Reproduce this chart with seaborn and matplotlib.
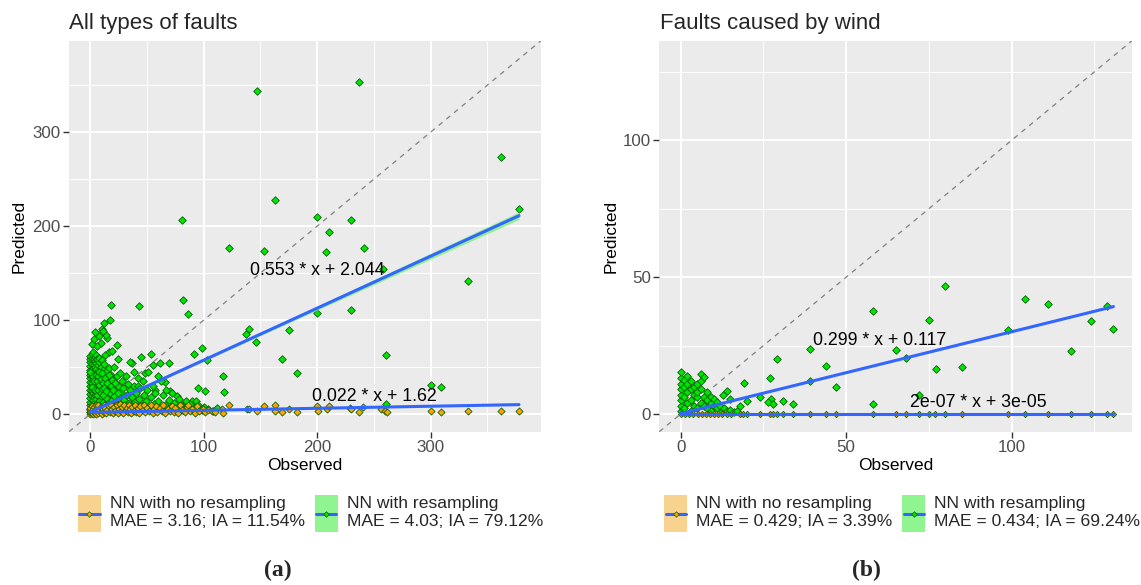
import numpy as np
import pandas as pd
import matplotlib
matplotlib.use("Agg")
import matplotlib.pyplot as plt
import seaborn as sns
from matplotlib.patches import Patch, Rectangle
from matplotlib.lines import Line2D
from matplotlib.legend_handler import HandlerBase
from matplotlib.ticker import MultipleLocator

# ---------------- data ----------------
# Panel (a): all types of faults
a_green = [
    (147, 344), (237, 353), (362, 274), (378, 218), (163, 228), (81, 206), (200, 210),
    (230, 206), (210, 194), (122, 177), (153, 173), (208, 172), (241, 177), (333, 142),
    (258, 154), (18, 116), (43, 115), (82, 121), (86, 106), (200, 107), (230, 111),
    (137, 85), (140, 90), (146, 77), (175, 89), (169, 58), (182, 44), (261, 63),
    (98, 70), (91, 64), (103, 57), (117, 40), (118, 23), (95, 28), (101, 24),
    (300, 31), (309, 29), (261, 11), (1, 74), (4, 87), (12, 97), (17, 100), (23, 73),
    (16, 66), (8, 83), (15, 81), (10, 90), (53, 64), (45, 61), (69, 54), (61, 54),
    (37, 54), (35, 55), (55, 52), (66, 34), (70, 24), (76, 19), (84, 12), (90, 14),
    (57, 26), (48, 44), (60, 40), (42, 38),
    (9, 76), (6, 72), (14, 84), (11, 88), (3, 80), (19, 67), (24, 58), (13, 63),
    (0, 2), (0, 5), (0, 9), (0, 13), (0, 17), (0, 21), (0, 26), (0, 30), (0, 34),
    (0, 38), (0, 42), (0, 47), (0, 51), (0, 55), (0, 58), (0, 62),
    (1, 4), (1, 11), (1, 19), (1, 24), (1, 33), (1, 40), (1, 45), (1, 53), (1, 60), (1, 64),
    (2, 1), (2, 7), (2, 15), (2, 22), (2, 28), (2, 36), (2, 44), (2, 49), (2, 57), (2, 66),
    (3, 3), (3, 10), (3, 18), (3, 25), (3, 31), (3, 39), (3, 46), (3, 52), (3, 59),
    (4, 6), (4, 13), (4, 20), (4, 29), (4, 35), (4, 43), (4, 50), (4, 56), (4, 61),
    (5, 2), (5, 9), (5, 16), (5, 23), (5, 32), (5, 37), (5, 48), (5, 54), (5, 63),
    (6, 5), (6, 12), (6, 27), (6, 41), (6, 58), (7, 8), (7, 19), (7, 33), (7, 46), (7, 52),
    (8, 3), (8, 14), (8, 24), (8, 38), (8, 55), (8, 60), (9, 10), (9, 29), (9, 43), (9, 50),
    (10, 6), (10, 18), (10, 35), (10, 57), (11, 13), (11, 26), (11, 47),
    (12, 4), (12, 21), (12, 40), (12, 53),
    (13, 9), (13, 31), (14, 17), (14, 45), (15, 6), (15, 26), (15, 38), (16, 12), (16, 49),
    (17, 22), (17, 33), (18, 4), (18, 42), (19, 15), (19, 28), (20, 8), (20, 36), (21, 19),
    (21, 50), (22, 25), (23, 11), (23, 40), (24, 30), (25, 5), (25, 17), (26, 44), (27, 23),
    (28, 10), (28, 35), (29, 28), (30, 15), (31, 6), (31, 40), (32, 20), (33, 32), (34, 12),
    (35, 25), (36, 8), (37, 18), (38, 45), (38, 30), (39, 13), (40, 22), (41, 5), (42, 30),
    (43, 16), (44, 28), (45, 10), (46, 35), (47, 20), (48, 8), (49, 14), (50, 26), (51, 45),
    (52, 6), (53, 18), (55, 30), (56, 11), (57, 22), (58, 8), (60, 14), (62, 35), (63, 6),
    (64, 20), (66, 10), (67, 26), (69, 15), (71, 7), (72, 22), (74, 12), (77, 5), (78, 16),
    (80, 10), (82, 4), (84, 14), (86, 8), (88, 11), (91, 6), (93, 14), (95, 9), (98, 4),
    (100, 7), (104, 5), (108, 3), (112, 6),
    (0, 45), (1, 29), (2, 40), (3, 35), (4, 25), (5, 42), (6, 20), (6, 35), (7, 26), (7, 40),
    (8, 31), (8, 45), (9, 22), (9, 37), (10, 27), (10, 44), (11, 20), (11, 33), (12, 28),
    (13, 38), (14, 24), (15, 33), (16, 42), (18, 30), (19, 36), (20, 25), (22, 33), (24, 22),
]
a_orange = [
    (122, 9), (138, 5), (140, 5), (147, 3), (153, 8), (163, 9), (163, 3), (169, 2), (175, 5),
    (182, 2), (200, 8), (201, 3), (209, 5), (210, 8), (229, 6), (230, 5), (237, 2), (240, 7),
    (256, 5), (260, 3), (262, 2), (300, 3), (309, 2), (333, 3), (362, 3), (378, 3),
    (0, 0), (0, 2), (0, 4), (0, 6), (1, 1), (1, 3), (1, 8), (2, 0), (2, 5), (3, 2), (3, 7),
    (4, 1), (4, 4), (5, 9), (5, 0), (6, 3), (6, 6), (7, 1), (7, 10), (8, 4), (9, 2), (9, 7),
    (10, 0), (11, 5), (12, 2), (12, 9), (13, 6), (14, 1), (15, 4), (16, 8), (17, 2), (18, 10),
    (19, 5), (20, 1), (21, 7), (22, 3), (23, 9), (24, 1), (25, 5), (26, 11), (27, 3), (28, 7),
    (29, 1), (30, 9), (31, 4), (32, 6), (33, 2), (34, 10), (35, 5), (36, 1), (37, 7), (38, 3),
    (39, 9), (40, 2), (42, 6), (43, 1), (44, 8), (46, 4), (47, 10), (48, 2), (50, 6), (52, 3),
    (53, 9), (55, 1), (56, 5), (58, 8), (59, 2), (61, 6), (63, 3), (64, 10), (66, 1), (68, 5),
    (70, 3), (72, 8), (74, 2), (75, 6), (77, 1), (79, 9), (81, 4), (83, 2), (85, 7), (86, 10),
    (88, 3), (90, 5), (92, 1), (94, 8), (96, 3), (99, 5), (101, 2), (104, 4), (107, 3),
    (110, 2), (116, 5), (117, 1),
]
a_fit_green = (0.553, 2.044)
a_fit_orange = (0.022, 1.62)
a_fit_xmax = 378
a_band_x = [0, 50, 100, 200, 300, 378]
a_band_hw = [0.3, 0.6, 1.1, 2.2, 3.2, 4.0]
a_labels = ["0.553 * x + 2.044", "0.022 * x + 1.62"]
a_label_pos = [(200, 153), (250, 18.5)]
a_legend = ["NN with no resampling\nMAE = 3.16; IA = 11.54%",
            "NN with resampling\nMAE = 4.03; IA = 79.12%"]

# Panel (b): faults caused by wind
b_green = [
    (80, 46.8), (58, 37.6), (75, 34.4), (104, 41.9), (111, 40.1), (99, 30.7), (124, 34),
    (128.7, 39.5), (130.8, 31.1), (118, 23.1), (65, 23.4), (39, 23.7), (29, 20), (68, 20.4),
    (44, 17.5), (77, 16.5), (85, 17.1), (27, 13.1), (39, 12.1), (19, 11.3), (47, 9.8),
    (72, 6.8), (58, 3.6), (24, 6.1), (27.3, 5.6), (30.9, 4.6), (33.9, 3.7), (26.3, 4.4),
    (27.8, 3.7), (20, 4.6), (17.9, 2.8), (13.9, 8.5), (12.9, 6.8), (14.9, 5.6), (11.9, 1.5),
    (0, 1), (0, 3), (0, 5), (0, 7), (0, 9), (0, 11), (0, 13), (0, 15.5), (1, 2), (1, 6),
    (1, 10), (1, 12.5), (2, 4), (2, 8), (2, 11), (2, 14), (3, 1), (3, 5), (3, 9), (3, 12),
    (4, 3), (4, 7), (4, 10), (5, 2), (5, 6), (5, 8), (5, 11), (6, 4), (6, 9), (6, 12),
    (6, 14.5), (7, 3), (7, 6), (7, 13.6), (8, 2), (8, 5), (8, 8), (9, 1), (9, 4), (9, 6),
    (10, 3), (10, 5.5), (11, 2), (11, 4.5), (12, 3), (13, 2), (14, 1), (15, 1.5), (16, 0.8),
    (17, 1.2),
]
b_orange_x = [0, 1.2, 2.5, 3.7, 5.1, 6.3, 7.6, 8.8, 10.1, 11.3, 12.6, 13.9, 15.2, 17.9,
              18.9, 20, 24, 27, 28, 29, 30.9, 33.9, 39, 44, 46.9, 58, 65, 68, 71.9, 75,
              76.9, 79.9, 84.9, 98.8, 104, 110.9, 117.9, 123.9, 128.7, 130.8]
b_orange_y = [0.0] * len(b_orange_x)
b_fit_green = (0.299, 0.117)
b_fit_orange = (2e-07, 3e-05)
b_fit_xmax = 130.8
b_labels = ["0.299 * x + 0.117", "2e-07 * x + 3e-05"]
b_label_pos = [(60, 26.7), (90, 4.0)]
b_legend = ["NN with no resampling\nMAE = 0.429; IA = 3.39%",
            "NN with resampling\nMAE = 0.434; IA = 69.24%"]

titles = ["All types of faults", "Faults caused by wind"]
captions = ["(a)", "(b)"]

# ---------------- style ----------------
sns.set_theme(style="darkgrid")
plt.rcParams['font.family'] = ['Liberation Sans', 'DejaVu Sans']

GREEN = "#00E600"
ORANGE = "#FFA500"
EDGE = "#0B5E0B"
BLUE = "#3366FF"
KEY_OR = "#F7D38F"
KEY_GR = "#90F590"

W, H = 1141, 585
fig = plt.figure(figsize=(W / 100, H / 100), dpi=100)
fig.patch.set_facecolor("white")


def frac_rect(x0, y0, x1, y1):
    return [x0 / W, 1 - y1 / H, (x1 - x0) / W, (y1 - y0) / H]


ax1 = fig.add_axes(frac_rect(69, 40.7, 541, 431.7))
ax2 = fig.add_axes(frac_rect(659.3, 40.7, 1132, 431.7))


def draw(ax, green, orange, fit_g, fit_o, xmax, lims, major, labels, label_pos,
         band=None, orange_size=10):
    ax.set_facecolor("#EBEBEB")
    for s in ax.spines.values():
        s.set_visible(False)
    ax.set_xlim(*lims)
    ax.set_ylim(*lims)
    ax.xaxis.set_major_locator(MultipleLocator(major))
    ax.yaxis.set_major_locator(MultipleLocator(major))
    ax.xaxis.set_minor_locator(MultipleLocator(major / 2))
    ax.yaxis.set_minor_locator(MultipleLocator(major / 2))
    ax.grid(which="major", color="white", lw=1.4, zorder=0)
    ax.grid(which="minor", color="white", lw=0.7, zorder=0)
    ax.set_axisbelow(True)
    ax.tick_params(which="major", length=4, width=1, color="#333333",
                   labelcolor="#4D4D4D", labelsize=12.2, pad=2,
                   bottom=True, left=True)
    ax.tick_params(which="minor", length=0)

    ax.axline((0, 0), slope=1, color="#808080", lw=0.9, ls=(0, (4, 4)), zorder=1.5)

    gdf = pd.DataFrame(green, columns=["Observed", "Predicted"])
    odf = pd.DataFrame(orange, columns=["Observed", "Predicted"])
    sns.scatterplot(data=gdf, x="Observed", y="Predicted", ax=ax, marker="D", s=15,
                    color=GREEN, edgecolor=EDGE, linewidth=0.6, zorder=2, legend=False)
    sns.scatterplot(data=odf, x="Observed", y="Predicted", ax=ax, marker="D",
                    s=orange_size, color=ORANGE, edgecolor=EDGE, linewidth=0.6,
                    zorder=2.1, legend=False)

    if band is not None:
        bx, bhw = band
        bx = np.asarray(bx, float)
        yc = fit_g[0] * bx + fit_g[1]
        ax.fill_between(bx, yc - np.asarray(bhw), yc + np.asarray(bhw),
                        color="#7CF07C", alpha=0.8, lw=0, zorder=2.5)

    xs = np.array([0.0, xmax])
    for (m, b) in (fit_o, fit_g):
        sns.lineplot(x=xs, y=m * xs + b, ax=ax, color=BLUE, lw=2.2, zorder=3)

    for txt, (tx, ty) in zip(labels, label_pos):
        ax.text(tx, ty, txt, fontsize=12.8, ha="center", va="center", color="black",
                zorder=4)

    ax.set_xlabel("Observed", fontsize=12.5, color="black")
    ax.set_ylabel("Predicted", fontsize=12.5, color="black")


draw(ax1, a_green, a_orange, a_fit_green, a_fit_orange, a_fit_xmax, (-18.9, 397.4), 100,
     a_labels, a_label_pos, band=(a_band_x, a_band_hw), orange_size=13)
draw(ax2, b_green, list(zip(b_orange_x, b_orange_y)), b_fit_green, b_fit_orange,
     b_fit_xmax, (-6.5, 136.4), 50, b_labels, b_label_pos, orange_size=10)

ax1.xaxis.set_label_coords(0.5, -0.068)
ax2.xaxis.set_label_coords(0.5, -0.068)
ax1.yaxis.set_label_coords(-0.089, 0.5)
ax2.yaxis.set_label_coords(-0.087, 0.5)

# titles
fig.text(69 / W, 1 - 29.5 / H, titles[0], fontsize=16, va="baseline", ha="left")
fig.text(660 / W, 1 - 29.5 / H, titles[1], fontsize=16, va="baseline", ha="left")


class KeyHandler(HandlerBase):
    def __init__(self, key_color, pt_color):
        super().__init__()
        self.key_color = key_color
        self.pt_color = pt_color

    def create_artists(self, legend, orig_handle, xdescent, ydescent, width, height,
                       fontsize, trans):
        rect = Rectangle((-xdescent, -ydescent), width, height,
                         facecolor=self.key_color, edgecolor="none", transform=trans)
        yc = height / 2 - ydescent
        x0 = -xdescent + 0.06 * width
        x1 = -xdescent + 0.94 * width
        line = Line2D([x0, x1], [yc, yc], color=BLUE, lw=2.2, transform=trans)
        mk = Line2D([-xdescent + width / 2], [yc], marker="D", ms=2.8, lw=0,
                    mfc=self.pt_color, mec=EDGE, mew=0.5, transform=trans)
        return [rect, line, mk]


for ax, labs, x_left in ((ax1, a_legend, 78), (ax2, b_legend, 664.3)):
    h_or = Patch(facecolor=KEY_OR)
    h_gr = Patch(facecolor=KEY_GR)
    ax.legend([h_or, h_gr], labs,
              handler_map={h_or: KeyHandler(KEY_OR, ORANGE), h_gr: KeyHandler(KEY_GR, GREEN)},
              ncol=2, loc="center left", bbox_to_anchor=(x_left / W, 1 - 513.5 / H),
              bbox_transform=fig.transFigure, frameon=False, fontsize=12.6,
              handlelength=1.31, handleheight=2.876, handletextpad=0.51,
              columnspacing=0.57, borderpad=0, borderaxespad=0)

for cap, cx in zip(captions, (277.5, 866.7)):
    fig.text(cx / W, 1 - 570 / H, cap, fontsize=17, fontweight="bold",
             family=["Liberation Serif", "DejaVu Serif"], ha="center", va="center")

fig.savefig("out.png", dpi=100)
